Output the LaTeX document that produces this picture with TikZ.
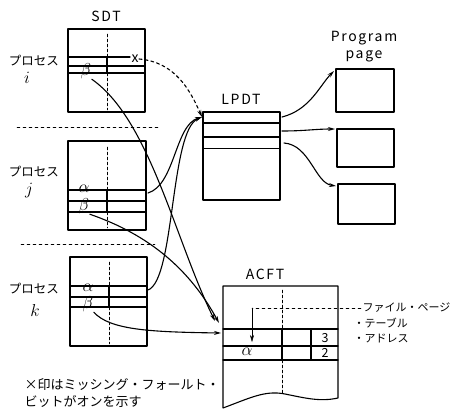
\documentclass[tikz,border=0pt]{standalone}
\usepackage{fontspec}
\newfontfamily\jp{Noto Sans CJK JP}
\newfontfamily\lat[LetterSpace=12]{Noto Sans CJK JP}
\usetikzlibrary{arrows.meta}
\tikzset{
	lbl/.style={font=\jp\fontsize{12.5}{12.5}\selectfont, inner sep=0pt},
	ttl/.style={font=\lat\fontsize{14}{14}\selectfont, inner sep=0pt},
	mth/.style={font=\fontsize{19}{19}\selectfont, inner sep=0pt},
	sml/.style={font=\fontsize{17}{17}\selectfont, inner sep=0pt},
	sep/.style={dashed, thin},
	ctr/.style={densely dashed, thin}
}
\begin{document}
\begin{tikzpicture}[x=1pt, y=-1pt, line join=round, line cap=round, >={Stealth[length=7pt,width=4pt]}, line width=1.1pt]
	\useasboundingbox (0,0) rectangle (453,410);
	% SDT, process i
	\coordinate (Ia) at (68,29);
	\coordinate (Ib) at (145,112);
	\draw (Ia) rectangle (Ib);
	\draw (68,57)--(130,57) (68,66)--(145,66) (68,73)--(145,73);
	\draw[ctr] (107,34)--(107,57) (107,73)--(107,110);
	\draw (107,57)--(107,73);
	\node[ttl] at (106,16) {SDT};
	\node[lbl] at (34,61) {プロセス};
	\node[mth] at (27,78) {$i$};
	\node[lbl, font=\jp\fontsize{14}{14}\selectfont] (X) at (135,59) {x};
	\node[sml] (Bi) at (86,71) {$\beta$};
	
	\draw[sep] (17,127)--(160,127);
	
	% process j
	\draw (68,141) rectangle (146,230);
	\draw (68,190)--(146,190) (68,201)--(146,201) (68,212)--(146,212);
	\draw[ctr] (107,147)--(107,190) (107,212)--(107,228);
	\draw (107,190)--(107,212);
	\node[lbl] at (34,172) {プロセス};
	\node[mth] at (29,191) {$j$};
	\node[sml] (Aj) at (84,189) {$\alpha$};
	\node[sml] (Bj) at (84,206) {$\beta$};
	
	\draw[sep] (21,244)--(155,244);
	
	% process k
	\draw (70,257) rectangle (147,346);
	\draw (70,286)--(147,286) (70,297)--(147,297) (70,307)--(147,307);
	\draw[ctr] (109,262)--(109,286) (109,307)--(109,344);
	\draw (109,286)--(109,307);
	\node[lbl] at (34,289) {プロセス};
	\node[mth] at (35,310) {$k$};
	\node[sml] (Ak) at (88,288) {$\alpha$};
	\node[sml] (Bk) at (88,304) {$\beta$};
	
	% LPDT
	\draw (203,112) rectangle (280,200);
	\draw (203,123)--(280,123) (203,137)--(280,137);
	\draw[thin] (203,148)--(280,148);
	\node[ttl] at (241,99) {LPDT};
	\coordinate (L) at (202,117);
	
	% program pages
	\node[ttl, align=center] at (364,47) {Program\\[3pt]page};
	\draw (336,69) rectangle (394,112);
	\draw (337,129) rectangle (394,167);
	\draw (338,184) rectangle (395,224);
	\coordinate (P1) at (334,71);
	\coordinate (P2) at (335,129);
	\coordinate (P3) at (336,186);
	
	% ACFT
	\node[ttl] at (265,274) {ACFT};
	\draw (338,286)--(223,286)--(223,408)
		.. controls (250,398) and (265,390) .. (285,394)
		.. controls (305,398) and (320,402) .. (338,398)--cycle;
	\draw (223,329)--(338,329) (223,346)--(338,346) (223,360)--(338,360);
	\draw (282,329)--(282,360) (311,329)--(311,360);
	\draw[ctr] (282,290)--(282,329) (282,360)--(282,394);
	\node[lbl] at (325,338) {3};
	\node[lbl] at (325,353) {2};
	\node[mth] at (247,352) {$\alpha$};
	\coordinate (F) at (252,308);
	\draw[dashed, thin] (361,308)--(F);
	\draw[->, thin] (F)--(252,342);
	\node[lbl, font=\jp\fontsize{11}{11}\selectfont, anchor=west] at (362,308) {ファイル・ページ};
	\node[lbl, font=\jp\fontsize{11}{11}\selectfont, anchor=west] at (353,323) {・テーブル};
	\node[lbl, font=\jp\fontsize{11}{11}\selectfont, anchor=west] at (353,338) {・アドレス};
	
	% connectors
	\draw[dashed, ->] (X.east) .. controls (175,62) and (190,90) .. (L);
	\draw[->] (148,193) .. controls (175,185) and (175,125) .. (L);
	\draw[->] (148,290) .. controls (175,280) and (170,130) .. (L);
	\draw[->] (Bi.south east) .. controls (150,120) and (175,240) .. (215,321);
	\draw[->] (Bj.south east) .. controls (150,235) and (190,270) .. (219,323);
	\draw[->] (Bk.south east) .. controls (110,330) and (150,332) .. (221,333);
	\draw[->] (282,117) .. controls (310,110) and (320,85) .. (P1);
	\draw[->] (282,131) .. controls (305,131) and (315,129) .. (P2);
	\draw[->] (284,143) .. controls (310,145) and (315,183) .. (P3);
	
	% note
	\node[lbl, font=\jp\fontsize{13}{13}\selectfont, anchor=west] at (24,385) {×印はミッシング・フォールト・};
	\node[lbl, font=\jp\fontsize{13}{13}\selectfont, anchor=west] at (24,402) {ビットがオンを示す};
\end{tikzpicture}
\end{document}
